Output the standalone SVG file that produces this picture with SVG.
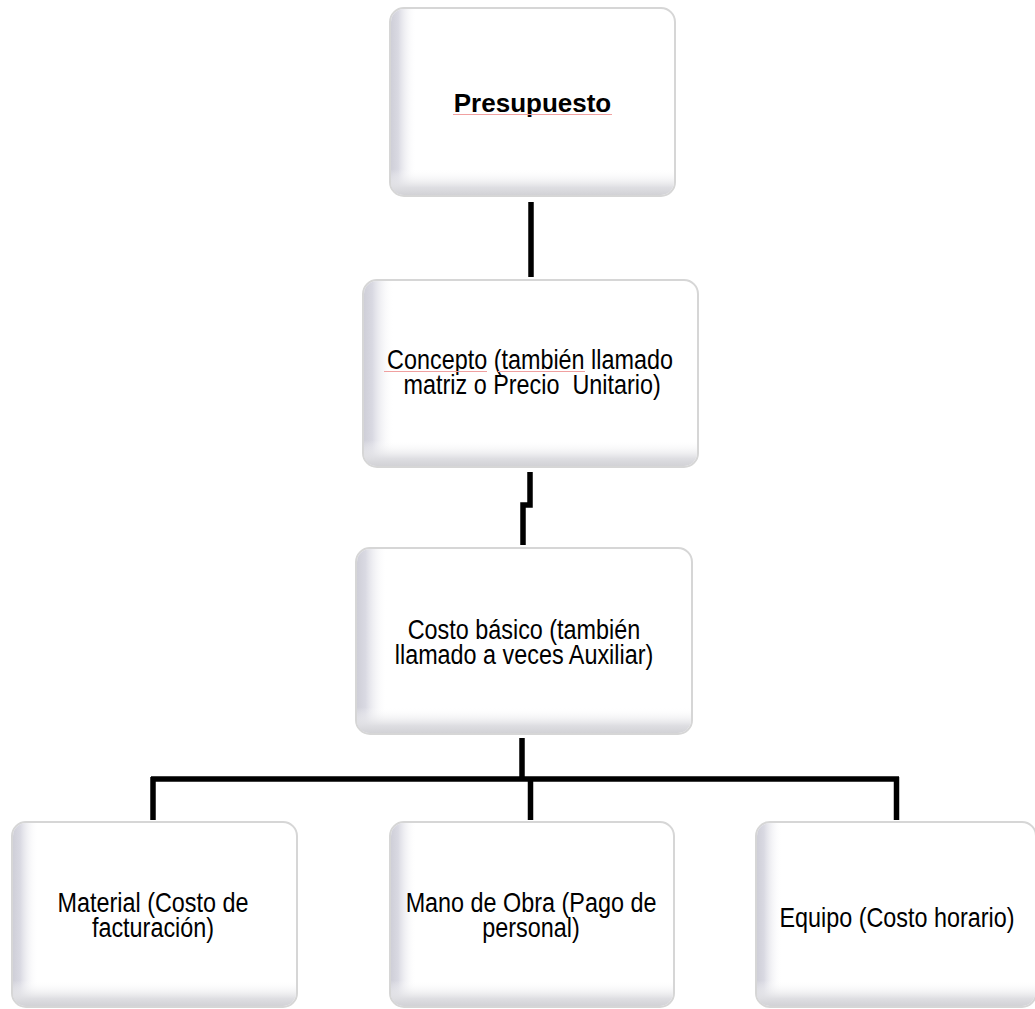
<svg xmlns="http://www.w3.org/2000/svg" width="1035" height="1009" viewBox="0 0 1035 1009">
<defs>
<linearGradient id="gl" x1="0" y1="0" x2="1" y2="0">
<stop offset="0" stop-color="#cfcfd8" stop-opacity="1"/>
<stop offset="0.025" stop-color="#d9d9e2" stop-opacity="1"/>
<stop offset="0.09" stop-color="#ffffff" stop-opacity="0"/>
</linearGradient>
<linearGradient id="gb" x1="0" y1="0" x2="0" y2="1">
<stop offset="0.86" stop-color="#ffffff" stop-opacity="0"/>
<stop offset="0.96" stop-color="#dedee2" stop-opacity="1"/>
<stop offset="1" stop-color="#d2d2d6" stop-opacity="1"/>
</linearGradient>
</defs>
<style>
.bg{fill:#ffffff}
.box{fill:#ffffff;stroke:#d6d6d6;stroke-width:2}
.sl{fill:url(#gl)}
.sb{fill:url(#gb)}
.t{font-family:"Liberation Sans",Arial,sans-serif;font-size:27.5px;fill:#000;text-anchor:middle}
.tb{font-family:"Liberation Sans",Arial,sans-serif;font-size:26px;font-weight:bold;fill:#000;text-anchor:middle}
.sp{stroke:#f0a0a0;stroke-width:1;fill:none}
.c{stroke:#000;stroke-width:5.5;fill:none;stroke-linecap:butt;stroke-linejoin:miter}
</style>
<rect class="bg" x="0" y="0" width="1035" height="1009"/>
<g id="connectors">
<path class="c" d="M531 202 V277"/>
<path class="c" d="M530 472 V505 H523 V545"/>
<path class="c" d="M522 738 V779"/>
<path class="c" d="M151 779 H899"/>
<path class="c" d="M153 777 V820"/>
<path class="c" d="M530.5 779 V820"/>
<path class="c" d="M896.5 777 V820"/>
</g>
<g id="n1">
<rect class="box" x="390" y="8" width="285" height="188" rx="14"/>
<rect class="sl" x="391" y="9" width="283" height="186" rx="13"/>
<rect class="sb" x="391" y="9" width="283" height="186" rx="13"/>
<text class="tb" x="532.5" y="112">Presupuesto</text>
<path class="sp" d="M453 114.5 H612"/>
</g>
<g id="n2">
<rect class="box" x="363" y="280" width="335" height="187" rx="14"/>
<rect class="sl" x="364" y="281" width="333" height="185" rx="13"/>
<rect class="sb" x="364" y="281" width="333" height="185" rx="13"/>
<text class="t" transform="translate(530 369) scale(0.85 1)"><tspan x="0" y="0">Concepto (también llamado</tspan><tspan x="2.5" y="24.5">matriz o Precio&#160; Unitario)</tspan></text>
<path class="sp" d="M384 371.5 H487 M498 371.5 H585"/>
</g>
<g id="n3">
<rect class="box" x="356" y="548" width="336" height="186" rx="14"/>
<rect class="sl" x="357" y="549" width="334" height="184" rx="13"/>
<rect class="sb" x="357" y="549" width="334" height="184" rx="13"/>
<text class="t" transform="translate(524 639) scale(0.85 1)"><tspan x="0" y="0">Costo básico (también</tspan><tspan x="0" y="24.5">llamado a veces Auxiliar)</tspan></text>
</g>
<g id="n4">
<rect class="box" x="12" y="822" width="285" height="185" rx="14"/>
<rect class="sl" x="13" y="823" width="283" height="183" rx="13"/>
<rect class="sb" x="13" y="823" width="283" height="183" rx="13"/>
<text class="t" transform="translate(153 912) scale(0.85 1)"><tspan x="0" y="0">Material (Costo de</tspan><tspan x="0" y="24.5">facturación)</tspan></text>
</g>
<g id="n5">
<rect class="box" x="390" y="822" width="284" height="185" rx="14"/>
<rect class="sl" x="391" y="823" width="282" height="183" rx="13"/>
<rect class="sb" x="391" y="823" width="282" height="183" rx="13"/>
<text class="t" transform="translate(531 912) scale(0.85 1)"><tspan x="0" y="0">Mano de Obra (Pago de</tspan><tspan x="0" y="24.5">personal)</tspan></text>
</g>
<g id="n6">
<rect class="box" x="756" y="822" width="280" height="185" rx="14"/>
<rect class="sl" x="757" y="823" width="278" height="183" rx="13"/>
<rect class="sb" x="757" y="823" width="278" height="183" rx="13"/>
<text class="t" transform="translate(897 927) scale(0.85 1)">Equipo (Costo horario)</text>
</g>
</svg>
